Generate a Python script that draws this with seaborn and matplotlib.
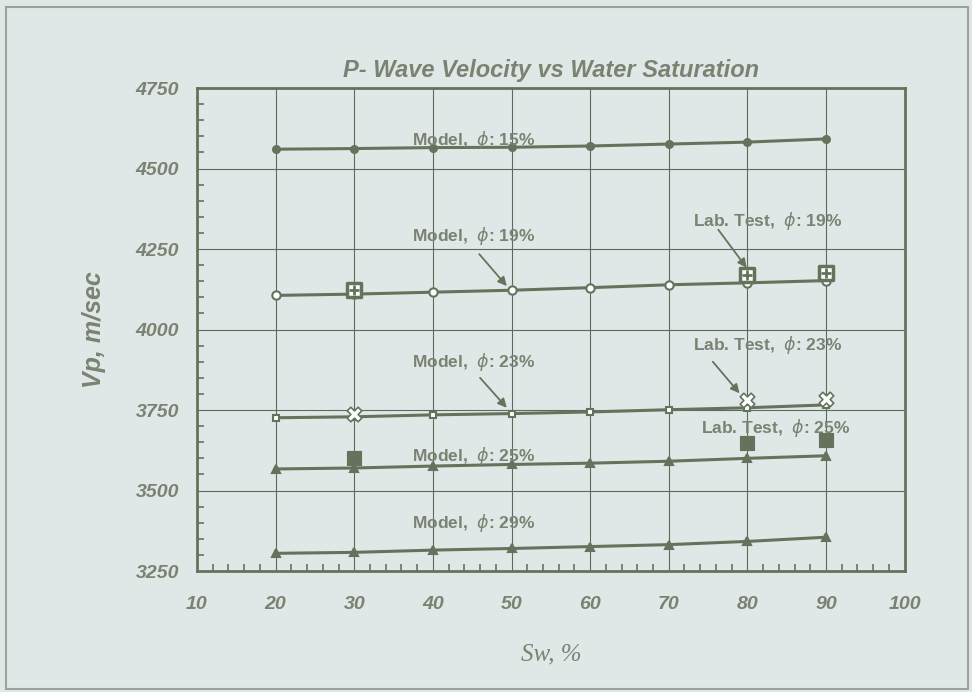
import numpy as np
import pandas as pd
import matplotlib
matplotlib.use("Agg")
import matplotlib.pyplot as plt
import seaborn as sns

# water saturation (%) for the model curves
sw = [20, 30, 40, 50, 60, 70, 80, 90]

# model P-wave velocity (m/sec) per porosity
vp_15 = [4560, 4562, 4565, 4566, 4570, 4576, 4582, 4592]
vp_19 = [4106, 4110, 4116, 4122, 4130, 4139, 4145, 4152]
vp_23 = [3726, 3729, 3735, 3739, 3744, 3751, 3757, 3766]
vp_25 = [3567, 3570, 3576, 3581, 3585, 3591, 3600, 3608]
vp_29 = [3305, 3308, 3315, 3320, 3326, 3332, 3342, 3355]

# lab test points
lab_sw = [30, 80, 90]
lab_19 = [4124, 4168, 4175]
lab_23 = [3738, 3780, 3783]
lab_25 = [3600, 3648, 3657]

line_col = "#66735c"
text_col = "#7b8272"
bg_col = "#dfe8e7"

sns.set_style("white")
plt.rcParams["font.family"] = ["Liberation Sans", "DejaVu Sans"]

fig = plt.figure(figsize=(9.72, 6.92), dpi=100, facecolor=bg_col)
ax = fig.add_axes([0.2027, 0.1748, 0.728, 0.698])
ax.set_facecolor(bg_col)

model = pd.DataFrame({
    "Sw": sw * 5,
    "Vp": vp_15 + vp_19 + vp_23 + vp_25 + vp_29,
    "phi": ["15"] * 8 + ["19"] * 8 + ["23"] * 8 + ["25"] * 8 + ["29"] * 8,
})

marker_style = {
    "15": dict(marker="o", mfc=line_col, ms=5),
    "19": dict(marker="o", mfc="white", ms=6),
    "23": dict(marker="s", mfc="white", ms=5),
    "25": dict(marker="^", mfc=line_col, ms=6),
    "29": dict(marker="^", mfc=line_col, ms=6),
}
for phi, grp in model.groupby("phi"):
    st = marker_style[phi]
    sns.lineplot(data=grp, x="Sw", y="Vp", ax=ax, color=line_col, lw=2.2,
                 marker=st["marker"], markersize=st["ms"],
                 markerfacecolor=st["mfc"], markeredgecolor=line_col,
                 markeredgewidth=1.5, legend=False)

# lab tests
sns.scatterplot(x=lab_sw, y=lab_19, ax=ax, marker="s", s=90, color="white",
                edgecolor=line_col, linewidth=2.5, zorder=5)
sns.scatterplot(x=lab_sw, y=lab_19, ax=ax, marker="+", s=50, color=line_col,
                linewidth=2, zorder=6)
sns.scatterplot(x=lab_sw, y=lab_23, ax=ax, marker="X", s=110, color="white",
                edgecolor=line_col, linewidth=1.2, zorder=5)
sns.scatterplot(x=lab_sw, y=lab_25, ax=ax, marker="s", s=110, color=line_col,
                edgecolor=line_col, zorder=5)

ax.set_xlim(10, 100)
ax.set_ylim(3250, 4750)
ax.set_xticks(np.arange(10, 101, 10))
ax.set_yticks(np.arange(3250, 4751, 250))
ax.set_xticks(np.arange(10, 101, 2), minor=True)
ax.set_yticks(np.arange(3250, 4751, 50), minor=True)
ax.grid(True, which="major", color="#5f6a58", lw=0.8)
ax.tick_params(which="both", direction="in", colors=line_col, left=True, bottom=True)
ax.tick_params(which="major", length=0, labelsize=14, labelcolor=text_col)
ax.tick_params(axis="y", which="major", pad=13)
ax.tick_params(axis="x", which="major", pad=18)
ax.tick_params(which="minor", length=5, width=1.2)
for lbl in ax.get_xticklabels() + ax.get_yticklabels():
    lbl.set_fontweight("bold")
    lbl.set_fontstyle("italic")
for sp in ax.spines.values():
    sp.set_color(line_col)
    sp.set_linewidth(2)

ax.set_xlabel("Sw, %", fontsize=18, color=text_col, family="Liberation Serif",
              style="italic", labelpad=22)
ax.set_ylabel("Vp, m/sec", fontsize=18, color=text_col, fontweight="bold",
              style="italic", labelpad=21)
ax.set_title("P- Wave Velocity vs Water Saturation", fontsize=17, color=text_col,
             fontweight="bold", style="italic", pad=8)

lbl_kw = dict(fontsize=12.5, color=text_col, fontweight="bold")
arrow_kw = dict(arrowstyle="-|>", color=line_col, lw=1.3, mutation_scale=13,
                shrinkA=0, shrinkB=0)


def phi_text(s, n):
    return s + r"  $\phi$: " + n + "%"


ax.text(37.4, 4572, phi_text("Model,", "15"), **lbl_kw)
ax.text(37.4, 4274, phi_text("Model,", "19"), **lbl_kw)
ax.text(73.1, 4322, phi_text("Lab. Test,", "19"), **lbl_kw)
ax.text(37.4, 3884, phi_text("Model,", "23"), **lbl_kw)
ax.text(73.1, 3936, phi_text("Lab. Test,", "23"), **lbl_kw)
ax.text(74.1, 3679, phi_text("Lab. Test,", "25"), **lbl_kw)
ax.text(37.4, 3592, phi_text("Model,", "25"), **lbl_kw)
ax.text(37.4, 3383, phi_text("Model,", "29"), **lbl_kw)

# pointer arrows from the labels towards their curves
ax.annotate("", xy=(49.4, 4135), xytext=(45.9, 4234), arrowprops=arrow_kw)
ax.annotate("", xy=(49.4, 3757), xytext=(46.0, 3850), arrowprops=arrow_kw)
ax.annotate("", xy=(79.9, 4192), xytext=(76.3, 4310), arrowprops=arrow_kw)
ax.annotate("", xy=(79.0, 3802), xytext=(75.6, 3900), arrowprops=arrow_kw)

# outer frame around the picture
fig.patches.append(plt.Rectangle((0.006, 0.005), 0.99, 0.985, transform=fig.transFigure,
                                 fill=False, edgecolor="#9aa39a", lw=1.5))

fig.savefig("out.png", dpi=100, facecolor=bg_col)
